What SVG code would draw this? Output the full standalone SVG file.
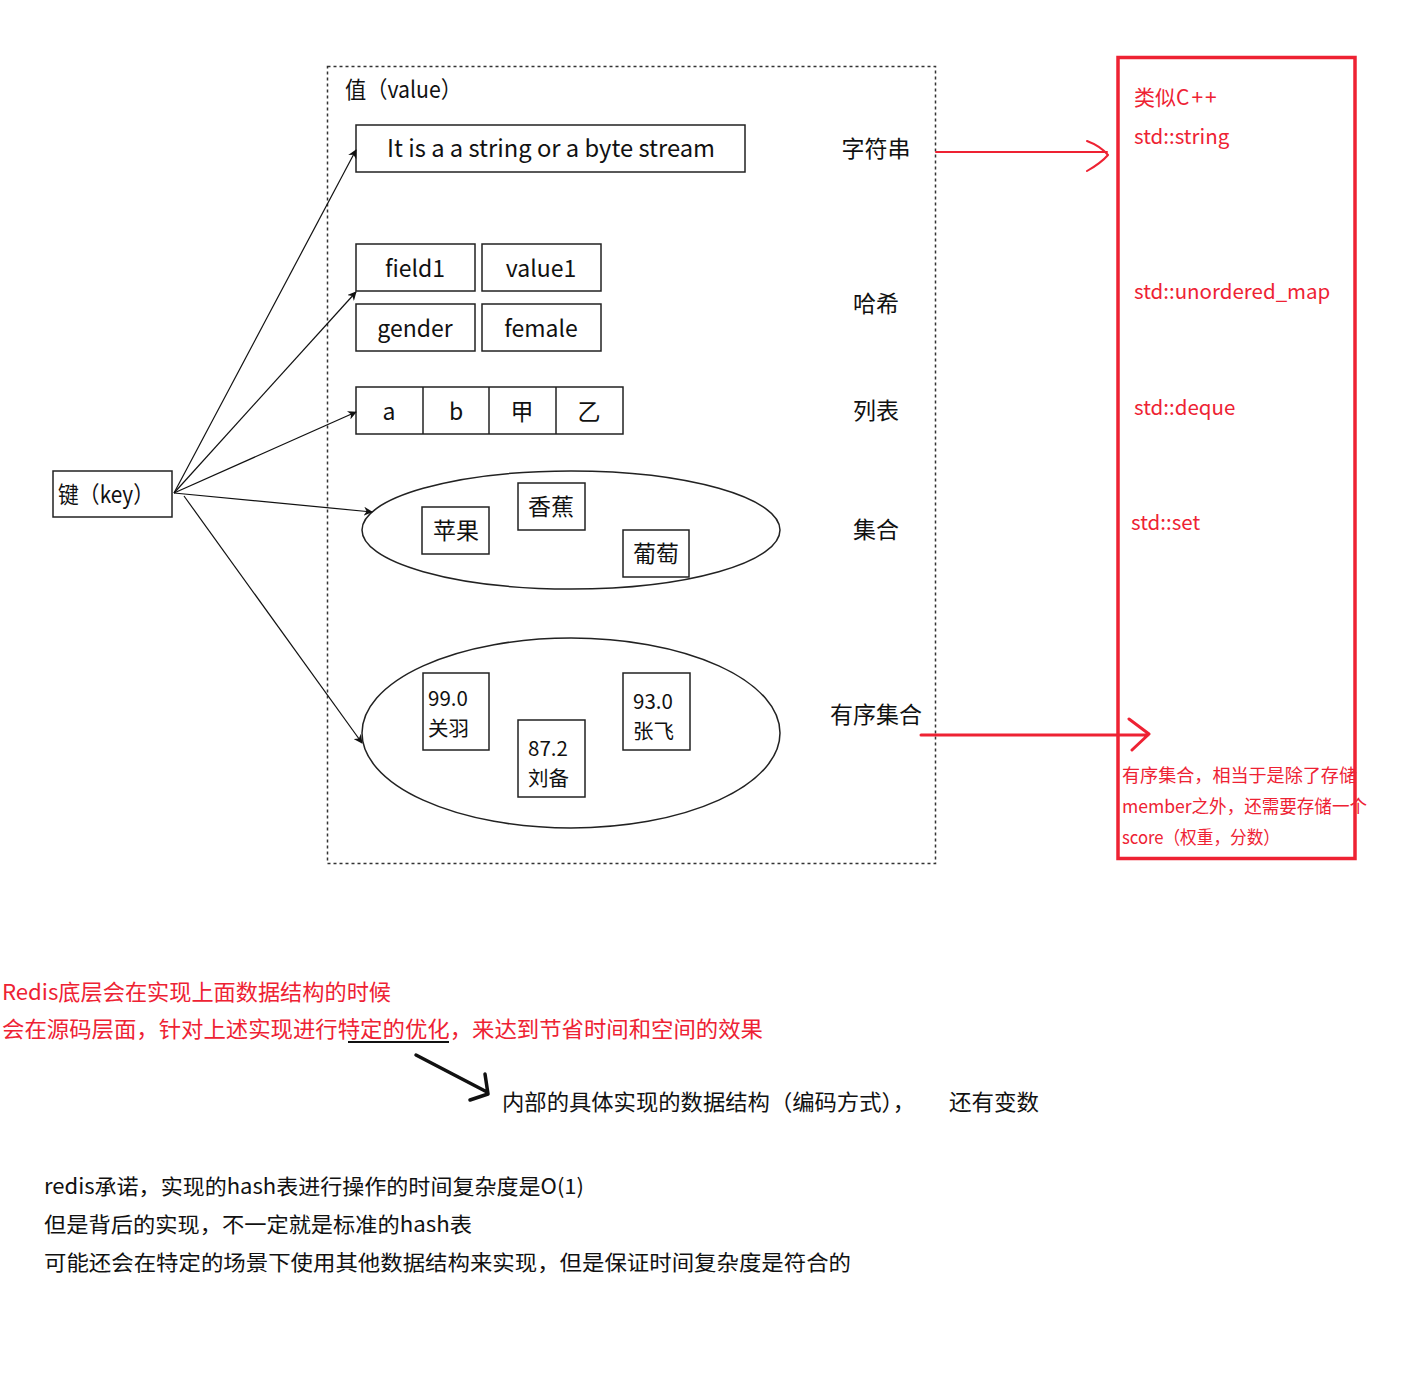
<svg xmlns="http://www.w3.org/2000/svg" width="1402" height="1380" viewBox="0 0 1402 1380">
<defs>
<style>
text{font-family:"Noto Sans CJK SC","Noto Sans",sans-serif;fill:#111}
.box{fill:#fff;stroke:#222;stroke-width:1.5}
.t22{font-size:23px}
.z{font-size:20.5px}
.mid{text-anchor:middle}
.lbl{font-size:23px;text-anchor:middle}
.red{fill:#ee2233}
.conn{stroke:#111;stroke-width:1.2;fill:none;marker-end:url(#ah)}
.rl{stroke:#ee2233;fill:none;stroke-linecap:round;stroke-linejoin:round}
</style>
<marker id="ah" viewBox="0 0 10 10" refX="9" refY="5" markerWidth="9" markerHeight="9" markerUnits="userSpaceOnUse" orient="auto">
<path d="M0,0 L10,5 L0,10 L3,5 Z" fill="#111"/>
</marker>
</defs>
<rect width="1402" height="1380" fill="#fff"/>

<g id="value-container">
<rect x="327.5" y="66.5" width="608" height="797" fill="none" stroke="#333" stroke-width="1.5" stroke-dasharray="3,3"/>
<text x="345" y="98" font-size="23" textLength="117" lengthAdjust="spacingAndGlyphs">值（value）</text>
</g>

<g id="string-node">
<rect class="box" x="356" y="125" width="389" height="47"/>
<text x="551" y="157" class="mid" font-size="24" textLength="328" lengthAdjust="spacingAndGlyphs">It is a a string or a byte stream</text>
</g>

<g id="hash-node">
<rect class="box" x="356" y="244" width="119" height="47"/>
<rect class="box" x="482" y="244" width="119" height="47"/>
<rect class="box" x="356" y="304" width="119" height="47"/>
<rect class="box" x="482" y="304" width="119" height="47"/>
<text x="415" y="277" class="t22 mid">field1</text>
<text x="541" y="277" class="t22 mid">value1</text>
<text x="415" y="337" class="t22 mid">gender</text>
<text x="541" y="337" class="t22 mid">female</text>
</g>

<g id="list-node">
<rect class="box" x="356" y="387" width="267" height="47"/>
<line x1="423" y1="387" x2="423" y2="434" stroke="#222" stroke-width="1.5"/>
<line x1="489" y1="387" x2="489" y2="434" stroke="#222" stroke-width="1.5"/>
<line x1="556" y1="387" x2="556" y2="434" stroke="#222" stroke-width="1.5"/>
<text x="389" y="420" class="t22 mid">a</text>
<text x="456" y="420" class="t22 mid">b</text>
<text x="522" y="420" class="t22 mid">甲</text>
<text x="589" y="420" class="t22 mid">乙</text>
</g>

<g id="set-node">
<ellipse cx="571" cy="530" rx="209" ry="59" fill="none" stroke="#222" stroke-width="1.5"/>
<rect class="box" x="422" y="507" width="67" height="47"/>
<rect class="box" x="518" y="483" width="67" height="47"/>
<rect class="box" x="623" y="530" width="66" height="47"/>
<text x="456" y="539" class="t22 mid">苹果</text>
<text x="551" y="515" class="t22 mid">香蕉</text>
<text x="656" y="562" class="t22 mid">葡萄</text>
</g>

<g id="zset-node">
<ellipse cx="571" cy="733" rx="209" ry="95" fill="none" stroke="#222" stroke-width="1.5"/>
<rect class="box" x="423" y="673" width="66" height="77"/>
<rect class="box" x="518" y="720" width="67" height="77"/>
<rect class="box" x="623" y="673" width="67" height="77"/>
<text class="z" x="428" y="706">99.0<tspan x="428" dy="30">关羽</tspan></text>
<text class="z" x="528" y="756">87.2<tspan x="528" dy="30">刘备</tspan></text>
<text class="z" x="633" y="709">93.0<tspan x="633" dy="30">张飞</tspan></text>
</g>

<g id="key-node">
<rect class="box" x="53" y="471" width="119" height="46"/>
<text x="58" y="503" font-size="23" textLength="96" lengthAdjust="spacingAndGlyphs">键（key）</text>
</g>

<g id="type-labels">
<text x="876" y="157" class="lbl">字符串</text>
<text x="876" y="312" class="lbl">哈希</text>
<text x="876" y="419" class="lbl">列表</text>
<text x="876" y="538" class="lbl">集合</text>
<text x="876" y="723" class="lbl">有序集合</text>
</g>

<g id="connectors">
<line class="conn" x1="174" y1="493" x2="356" y2="150"/>
<line class="conn" x1="174" y1="493" x2="356" y2="292"/>
<line class="conn" x1="174" y1="493" x2="356" y2="412"/>
<line class="conn" x1="174" y1="493" x2="372" y2="512"/>
<line class="conn" x1="184" y1="496" x2="362" y2="743"/>
<path class="rl" stroke-width="2" d="M936,152 L1107,152 M1087,141 C1095,144 1103,149 1108,155 C1102,162 1094,167 1087,171"/>
<path class="rl" stroke-width="3" d="M921,735 L1148,735 M1129,719 L1149,734 L1132,750"/>
<path stroke="#111" stroke-width="3.5" fill="none" stroke-linecap="round" stroke-linejoin="round" d="M416,1055 L487,1092 M470,1100 L488,1094 L485,1074"/>
<line x1="348" y1="1042" x2="449" y2="1042" stroke="#111" stroke-width="2"/>
</g>

<g id="cpp-box">
<rect x="1118" y="57.5" width="237" height="801" fill="none" stroke="#ee2233" stroke-width="3.5"/>
<text x="1134" y="105" class="red" font-size="21">类似<tspan letter-spacing="2">C++</tspan></text>
<text x="1134" y="144" class="red" font-size="20.5">std::string</text>
<text x="1134" y="299" class="red" font-size="20.5">std::unordered_map</text>
<text x="1134" y="415" class="red" font-size="20.5">std::deque</text>
<text x="1131" y="530" class="red" font-size="20.5">std::set</text>
<text x="1122" y="782" class="red" font-size="18" textLength="235" lengthAdjust="spacingAndGlyphs">有序集合，相当于是除了存储</text>
<text x="1122" y="813" class="red" font-size="18" textLength="245" lengthAdjust="spacingAndGlyphs">member之外，还需要存储一个</text>
<text x="1122" y="844" class="red" font-size="18" textLength="158" lengthAdjust="spacingAndGlyphs">score（权重，分数）</text>
</g>

<g id="notes">
<text x="2" y="1000" class="red" font-size="22" textLength="389" lengthAdjust="spacingAndGlyphs">Redis底层会在实现上面数据结构的时候</text>
<text x="2" y="1037" class="red" font-size="22" textLength="761" lengthAdjust="spacingAndGlyphs">会在源码层面，针对上述实现进行特定的优化，来达到节省时间和空间的效果</text>
<text x="502" y="1110" font-size="22" textLength="413" lengthAdjust="spacingAndGlyphs">内部的具体实现的数据结构（编码方式），</text>
<text x="949" y="1110" font-size="22" textLength="90" lengthAdjust="spacingAndGlyphs">还有变数</text>
<text x="44" y="1194" font-size="21" textLength="540" lengthAdjust="spacingAndGlyphs">redis承诺，实现的hash表进行操作的时间复杂度是O(1)</text>
<text x="44" y="1232" font-size="21" textLength="428" lengthAdjust="spacingAndGlyphs">但是背后的实现，不一定就是标准的hash表</text>
<text x="44" y="1270" font-size="21" textLength="807" lengthAdjust="spacingAndGlyphs">可能还会在特定的场景下使用其他数据结构来实现，但是保证时间复杂度是符合的</text>
</g>
</svg>
